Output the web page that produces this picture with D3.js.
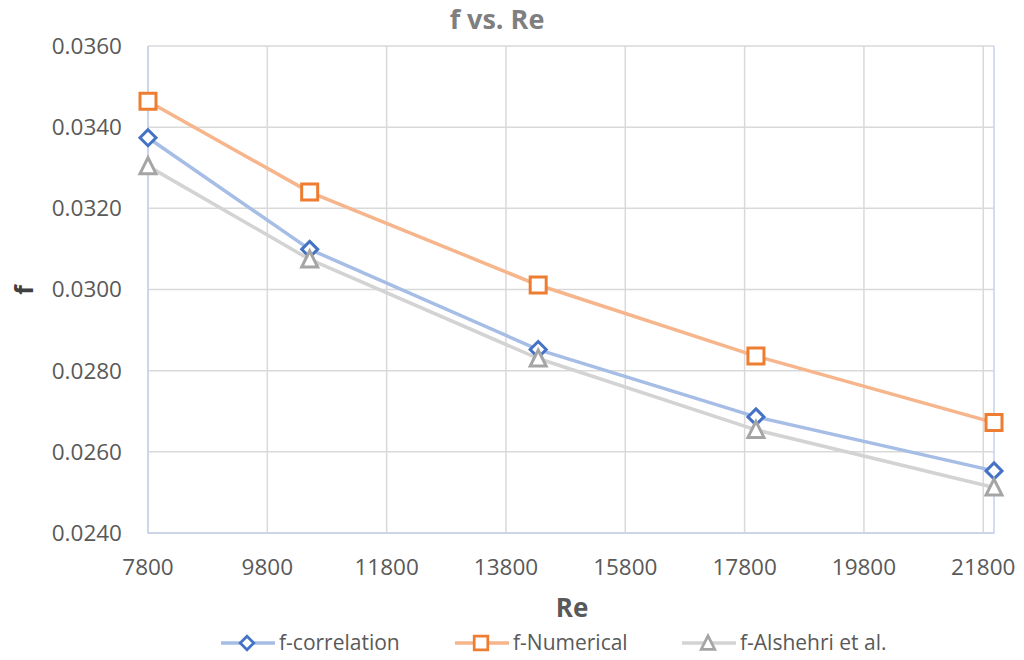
<!DOCTYPE html>
<html>
<head>
<meta charset="utf-8">
<script src="https://d3js.org/d3.v7.min.js"></script>
<style>
    body { margin: 0; background: #fff; }
    text { font-family: "Open Sans", sans-serif; }
    .grid line { stroke: #d9d9d9; stroke-width: 1.5px; }
    .tick-label { fill: #595959; font-size: 22.5px; }
    .legend-label { fill: #595959; font-size: 21px; }
</style>
</head>
<body>
<svg id="chart" width="1024" height="660"></svg>
<script>
    // data
    const reValues = [7800, 10510, 14340, 17990, 21980];
    const fCorrelation = [0.03374, 0.03099, 0.02852, 0.02686, 0.02553];
    const fNumerical = [0.03464, 0.03240, 0.03011, 0.02836, 0.02672];
    const fAlshehri = [0.03304, 0.03074, 0.02830, 0.02654, 0.02512];
    const xTicks = [7800, 9800, 11800, 13800, 15800, 17800, 19800, 21800];
    const yTicks = [0.024, 0.026, 0.028, 0.030, 0.032, 0.034, 0.036];
    const seriesNames = ["f-correlation", "f-Numerical", "f-Alshehri et al."];

    const svg = d3.select("#chart");
    const plotLeft = 148, plotRight = 994, plotTop = 46, plotBottom = 533;

    const x = d3.scaleLinear().domain([7800, 21980]).range([plotLeft, plotRight]);
    const y = d3.scaleLinear().domain([0.024, 0.036]).range([plotBottom, plotTop]);

    const series = [
        { name: seriesNames[0], values: fCorrelation, line: "#a6bde6", mark: "#4472c4", shape: "diamond" },
        { name: seriesNames[1], values: fNumerical, line: "#f6b58b", mark: "#ed7d31", shape: "square" },
        { name: seriesNames[2], values: fAlshehri, line: "#d3d3d3", mark: "#a5a5a5", shape: "triangle" }
    ];

    // gridlines
    const grid = svg.append("g").attr("class", "grid");
    grid.selectAll("line.h").data(yTicks).join("line")
        .attr("class", "h")
        .attr("x1", plotLeft).attr("x2", plotRight)
        .attr("y1", d => y(d)).attr("y2", d => y(d));
    grid.selectAll("line.v").data(xTicks).join("line")
        .attr("class", "v")
        .attr("x1", d => x(d)).attr("x2", d => x(d))
        .attr("y1", plotTop).attr("y2", plotBottom);

    // plot border (left, right, bottom)
    svg.append("path")
        .attr("d", `M${plotLeft},${plotTop}V${plotBottom}H${plotRight}V${plotTop}`)
        .attr("fill", "none")
        .attr("stroke", "#c5d1ec")
        .attr("stroke-width", 1.5);

    // tick labels
    svg.selectAll("text.ytick").data(yTicks).join("text")
        .attr("class", "tick-label ytick")
        .attr("x", 122)
        .attr("y", d => y(d))
        .attr("dy", "0.35em")
        .attr("text-anchor", "end")
        .text(d => d3.format(".4f")(d));

    svg.selectAll("text.xtick").data(xTicks).join("text")
        .attr("class", "tick-label xtick")
        .attr("x", d => x(d))
        .attr("y", 567)
        .attr("dy", "0.35em")
        .attr("text-anchor", "middle")
        .text(d => d);

    // titles
    svg.append("text")
        .attr("x", 497).attr("y", 20).attr("dy", "0.35em")
        .attr("text-anchor", "middle")
        .attr("font-size", 27).attr("font-weight", "bold")
        .attr("fill", "#7f7f7f")
        .text("f vs. Re");

    svg.append("text")
        .attr("x", 572).attr("y", 608).attr("dy", "0.35em")
        .attr("text-anchor", "middle")
        .attr("font-size", 26).attr("font-weight", "bold")
        .attr("fill", "#595959")
        .text("Re");

    svg.append("text")
        .attr("transform", "translate(24,290) rotate(-90)")
        .attr("dy", "0.35em")
        .attr("text-anchor", "middle")
        .attr("font-size", 25).attr("font-weight", "bold")
        .attr("fill", "#404040")
        .text("f");

    function markerPath(shape) {
        if (shape === "diamond") return "M0,-8L8,0L0,8L-8,0Z";
        if (shape === "square") return "M-8,-8H8V8H-8Z";
        return "M0,-8.5L8,7.5H-8Z";
    }

    const lineGen = d3.line().x(d => x(d[0])).y(d => y(d[1]));

    series.forEach(s => {
        const pts = reValues.map((r, i) => [r, s.values[i]]);
        svg.append("path")
            .datum(pts)
            .attr("d", lineGen)
            .attr("fill", "none")
            .attr("stroke", s.line)
            .attr("stroke-width", 3.5)
            .attr("stroke-linejoin", "round");
    });

    series.forEach(s => {
        const pts = reValues.map((r, i) => [r, s.values[i]]);
        svg.selectAll(null).data(pts).join("path")
            .attr("transform", d => `translate(${x(d[0])},${y(d[1])})`)
            .attr("d", markerPath(s.shape))
            .attr("fill", "#fff")
            .attr("stroke", s.mark)
            .attr("stroke-width", 3);
    });

    // legend
    const legendX = [221, 455, 682];
    const legend = svg.selectAll("g.legend").data(series).join("g")
        .attr("class", "legend")
        .attr("transform", (d, i) => `translate(${legendX[i]},643)`);
    legend.append("line")
        .attr("x1", 0).attr("x2", 54)
        .attr("stroke", d => d.line)
        .attr("stroke-width", 3.5);
    legend.append("path")
        .attr("transform", "translate(26,0) scale(0.85)")
        .attr("d", d => markerPath(d.shape))
        .attr("fill", "#fff")
        .attr("stroke", d => d.mark)
        .attr("stroke-width", 3.2);
    legend.append("text")
        .attr("class", "legend-label")
        .attr("x", 58)
        .attr("dy", "0.35em")
        .text(d => d.name);
</script>
</body>
</html>
